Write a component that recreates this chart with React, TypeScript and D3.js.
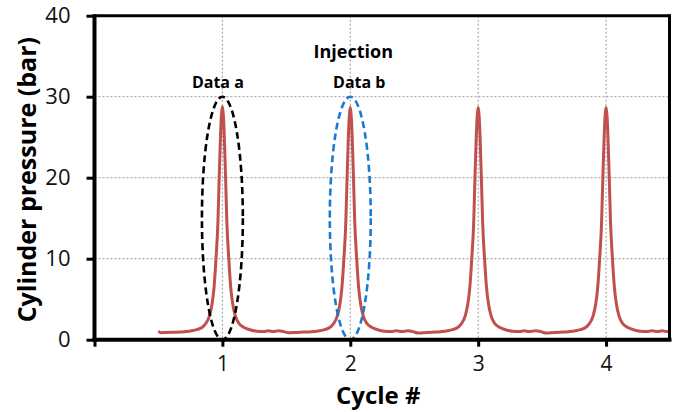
import React, { useEffect, useRef } from 'react';
import * as d3 from 'd3';

// axis ticks
const cycleTicks = [0, 1, 2, 3, 4];
const cycleTickLabels = ['', '1', '2', '3', '4'];
const pressureTicks = [0, 10, 20, 30, 40];
const pressureTickLabels = ['0', '10', '20', '30', '40'];

// trace: [cycle #, cylinder pressure (bar)]
const pressureTrace: [number, number][] = [
  [0.5, 1.05], [0.52, 0.85], [0.56, 0.9], [0.62, 0.92], [0.68, 0.95], [0.72, 1.0],
  // cycle 1
  [0.76, 1.1], [0.8, 1.25], [0.84, 1.5], [0.87, 2.0], [0.9, 3.0], [0.92, 4.5], [0.935, 6.5],
  [0.95, 10], [0.965, 14.5], [0.975, 20], [0.985, 25], [0.992, 27.6], [1.0, 28.8],
  [1.008, 27.6], [1.015, 25], [1.025, 20], [1.035, 14.5], [1.05, 10], [1.065, 6.5],
  [1.08, 4.5], [1.1, 3.0], [1.13, 2.0], [1.17, 1.5], [1.22, 1.2], [1.27, 1.05],
  [1.32, 1.0], [1.36, 1.1], [1.4, 1.0], [1.44, 1.12], [1.48, 1.0], [1.52, 0.85],
  [1.58, 0.9], [1.65, 0.95], [1.72, 1.0],
  // cycle 2
  [1.76, 1.1], [1.8, 1.25], [1.84, 1.5], [1.87, 2.0], [1.9, 3.0], [1.92, 4.5], [1.935, 6.5],
  [1.95, 10], [1.965, 14.5], [1.975, 20], [1.985, 25], [1.992, 27.5], [2.0, 28.7],
  [2.008, 27.5], [2.015, 25], [2.025, 20], [2.035, 14.5], [2.05, 10], [2.065, 6.5],
  [2.08, 4.5], [2.1, 3.0], [2.13, 2.0], [2.17, 1.5], [2.22, 1.2], [2.27, 1.05],
  [2.32, 1.0], [2.36, 1.12], [2.4, 1.0], [2.45, 1.1], [2.49, 1.0], [2.53, 0.82],
  [2.6, 0.9], [2.67, 0.95], [2.72, 1.0],
  // cycle 3
  [2.76, 1.1], [2.8, 1.25], [2.84, 1.5], [2.87, 2.0], [2.9, 3.0], [2.92, 4.5], [2.935, 6.5],
  [2.95, 10], [2.965, 14.5], [2.975, 20], [2.985, 25], [2.992, 27.5], [3.0, 28.7],
  [3.008, 27.5], [3.015, 25], [3.025, 20], [3.035, 14.5], [3.05, 10], [3.065, 6.5],
  [3.08, 4.5], [3.1, 3.0], [3.13, 2.0], [3.17, 1.5], [3.22, 1.2], [3.27, 1.05],
  [3.32, 1.0], [3.36, 1.1], [3.4, 1.0], [3.45, 1.12], [3.49, 1.0], [3.53, 0.82],
  [3.6, 0.9], [3.67, 0.95], [3.72, 1.0],
  // cycle 4
  [3.76, 1.1], [3.8, 1.25], [3.84, 1.5], [3.87, 2.0], [3.9, 3.0], [3.92, 4.5], [3.935, 6.5],
  [3.95, 10], [3.965, 14.5], [3.975, 20], [3.985, 25], [3.992, 27.5], [4.0, 28.7],
  [4.008, 27.5], [4.015, 25], [4.025, 20], [4.035, 14.5], [4.05, 10], [4.065, 6.5],
  [4.08, 4.5], [4.1, 3.0], [4.13, 2.0], [4.17, 1.5], [4.22, 1.2], [4.27, 1.05],
  [4.32, 1.0], [4.36, 1.12], [4.4, 1.0], [4.44, 1.1], [4.47, 1.0], [4.5, 1.0],
];

// dashed ellipses drawn around the first two peaks
const markerCycles = [1, 2];
const markerLabels = ['Data a', 'Data b'];
const markerColors = ['#000000', '#1a7ad0'];
const markerTop = 30; // bar
const markerHalfWidth = 0.16; // cycles
const injectionLabel = 'Injection';

export default function App() {
  const svgRef = useRef<SVGSVGElement>(null);

  useEffect(() => {
    const w = 681;
    const h = 412;
    const left = 94.5;
    const right = 670;
    const top = 15.7;
    const bottom = 339.7;
    const font = '"Open Sans", sans-serif';

    const svg = d3.select(svgRef.current).attr('width', w).attr('height', h);
    svg.selectAll('*').remove();

    const x = d3.scaleLinear().domain([0, 4.5]).range([left, right]);
    const y = d3.scaleLinear().domain([0, 40]).range([bottom, top]);

    // grid
    const grid = svg.append('g').attr('stroke', '#999').attr('stroke-width', 1).attr('stroke-dasharray', '2,2');
    grid.selectAll('.gx')
      .data(cycleTicks.slice(1))
      .join('line')
      .attr('x1', d => x(d)).attr('x2', d => x(d))
      .attr('y1', top).attr('y2', bottom);
    grid.selectAll('.gy')
      .data(pressureTicks.slice(1, -1))
      .join('line')
      .attr('x1', left).attr('x2', right)
      .attr('y1', d => y(d)).attr('y2', d => y(d));

    // trace
    const line = d3.line<[number, number]>()
      .x(d => x(d[0]))
      .y(d => y(d[1]))
      .curve(d3.curveMonotoneX);
    svg.append('path')
      .datum(pressureTrace)
      .attr('d', line)
      .attr('fill', 'none')
      .attr('stroke', '#c0504d')
      .attr('stroke-width', 3)
      .attr('stroke-linejoin', 'round');

    // ellipses
    svg.selectAll('.marker')
      .data(markerCycles)
      .join('ellipse')
      .attr('cx', d => x(d))
      .attr('cy', y(markerTop / 2))
      .attr('rx', x(markerHalfWidth) - x(0))
      .attr('ry', y(0) - y(markerTop / 2))
      .attr('fill', 'none')
      .attr('stroke', (d, i) => markerColors[i])
      .attr('stroke-width', 2.6)
      .attr('stroke-dasharray', '7,4');

    svg.selectAll('.markerLabel')
      .data(markerCycles)
      .join('text')
      .attr('x', (d, i) => x(d) + (i === 0 ? -4.5 : 9))
      .attr('y', 88)
      .attr('text-anchor', 'middle')
      .attr('font-family', font)
      .attr('font-weight', 'bold')
      .attr('font-size', 16)
      .text((d, i) => markerLabels[i]);

    svg.append('text')
      .attr('x', x(2) + 3)
      .attr('y', 58)
      .attr('text-anchor', 'middle')
      .attr('font-family', font)
      .attr('font-weight', 'bold')
      .attr('font-size', 18)
      .text(injectionLabel);

    // frame and axes
    svg.append('line').attr('x1', left).attr('x2', right).attr('y1', top).attr('y2', top)
      .attr('stroke', '#000').attr('stroke-width', 3);
    svg.append('line').attr('x1', right - 0.5).attr('x2', right - 0.5).attr('y1', top - 1.5).attr('y2', bottom)
      .attr('stroke', '#000').attr('stroke-width', 3);

    const yAxis = d3.axisLeft(y)
      .tickValues(pressureTicks)
      .tickFormat((d, i) => pressureTickLabels[i])
      .tickSize(8)
      .tickSizeOuter(0)
      .tickPadding(16);
    const gy = svg.append('g').attr('transform', `translate(${left},0)`).call(yAxis);
    gy.select('.domain').attr('stroke-width', 4).attr('d', `M0,${top - 1.5}V${bottom + 2}`);
    gy.selectAll('.tick line').attr('stroke-width', 3);
    gy.selectAll('.tick text').attr('font-family', font).attr('font-size', 22).attr('fill', '#111');

    const xAxis = d3.axisBottom(x)
      .tickValues(cycleTicks)
      .tickFormat((d, i) => cycleTickLabels[i])
      .tickSize(7)
      .tickSizeOuter(0)
      .tickPadding(9);
    const gx = svg.append('g').attr('transform', `translate(0,${bottom})`).call(xAxis);
    gx.select('.domain').attr('stroke-width', 4).attr('d', `M${left - 2},0H${right + 1.5}`);
    gx.selectAll('.tick line').attr('stroke-width', 3);
    gx.selectAll('.tick text').attr('font-family', font).attr('font-size', 21).attr('fill', '#111');

    // axis titles
    svg.append('text')
      .attr('transform', `translate(36,${(top + bottom) / 2 + 2}) rotate(-90)`)
      .attr('text-anchor', 'middle')
      .attr('font-family', font)
      .attr('font-weight', 'bold')
      .attr('font-size', 25)
      .text('Cylinder pressure (bar)');
    svg.append('text')
      .attr('x', (left + right) / 2 - 4)
      .attr('y', 404)
      .attr('text-anchor', 'middle')
      .attr('font-family', font)
      .attr('font-weight', 'bold')
      .attr('font-size', 24)
      .text('Cycle #');
  }, []);

  return (
    <svg ref={svgRef} style={{ position: 'absolute', left: 0, top: 0, background: '#fff' }}></svg>
  );
}
